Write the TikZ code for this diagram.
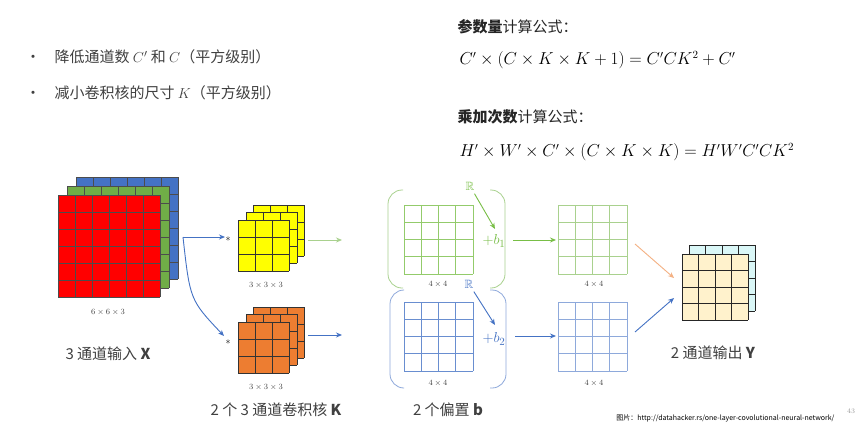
\documentclass[tikz,border=0pt]{standalone}
\usepackage{fontspec}
\usepackage{amssymb}
\newfontfamily\cjk{Noto Sans CJK SC}
\usetikzlibrary{arrows.meta,calc}
\definecolor{gA}{RGB}{120,190,70}
\definecolor{gL}{RGB}{169,209,142}
\definecolor{bA}{RGB}{68,114,196}
\definecolor{bL}{RGB}{142,169,219}
\definecolor{oA}{RGB}{244,177,131}
\definecolor{kred}{RGB}{255,0,0}
\definecolor{kgreen}{RGB}{112,173,71}
\definecolor{kblue}{RGB}{68,114,196}
\definecolor{kyel}{RGB}{255,255,0}
\definecolor{kor}{RGB}{237,125,49}
\definecolor{kcream}{RGB}{255,242,204}
\definecolor{kcyan}{RGB}{218,247,247}
\definecolor{txt}{RGB}{64,64,64}
\newcommand\mygrid[7]{% x y size n fill line width
  \fill[#5] (#1,#2) rectangle ++(#3,#3);
  \foreach \i in {0,...,#4}{
    \pgfmathsetmacro\dd{\i*#3/#4}
    \draw[#6,line width=#7] (#1+\dd,#2) -- (#1+\dd,#2+#3);
    \draw[#6,line width=#7] (#1,#2+\dd) -- (#1+#3,#2+\dd);}}
\tikzset{
  lab/.style={font=\fontsize{8}{9}\selectfont,text=txt},
  big/.style={font=\cjk\fontsize{15}{18}\selectfont,text=txt},
  arr/.style={-{Stealth[length=6pt,width=5pt]},line width=0.9pt},
}
\begin{document}
\begin{tikzpicture}[x=1pt,y=-1pt]
\useasboundingbox[fill=white] (0,0) rectangle (862,429);
% bullets
\node[big,anchor=west] (b1) at (22,57) {•\hspace{14pt}降低通道数 $C'$ 和 $C$（平方级别）};
\node[big,anchor=west] (b2) at (22,93) {•\hspace{14pt}减小卷积核的尺寸 $K$（平方级别）};
% formulas
\node[font=\cjk\fontsize{15}{18}\selectfont,text=black!85,anchor=west] (f1) at (454,27) {\textbf{参数量}计算公式：};
\node[font=\fontsize{16}{18}\selectfont,anchor=west] (e1) at (456,60) {$C'\times(C\times K\times K+1)=C'CK^2+C'$};
\node[font=\cjk\fontsize{15}{18}\selectfont,text=black!85,anchor=west] (f2) at (454,117) {\textbf{乘加次数}计算公式：};
\node[font=\fontsize{16}{18}\selectfont,anchor=west] (e2) at (456,152) {$H'\times W'\times C'\times(C\times K\times K)=H'W'C'CK^2$};
% input
\mygrid{76}{177}{102}{6}{kblue}{black!70}{0.9pt}
\mygrid{67}{186}{102}{6}{kgreen}{black!70}{0.9pt}
\mygrid{58}{195}{102}{6}{kred}{black!70}{0.9pt}
\node[lab] (l1) at (108,312) {$6\times6\times3$};
\node[big] (tx) at (108,354) {3 通道输入 \textbf{X}};
% kernels
\mygrid{253}{205}{51}{3}{kyel}{black!80}{0.9pt}
\mygrid{246}{212}{51}{3}{kyel}{black!80}{0.9pt}
\mygrid{238}{220}{51}{3}{kyel}{black!80}{0.9pt}
\node[lab] (l2) at (266,285) {$3\times3\times3$};
\mygrid{253}{307}{51}{3}{kor}{black!80}{0.9pt}
\mygrid{246}{314}{51}{3}{kor}{black!80}{0.9pt}
\mygrid{238}{322}{51}{3}{kor}{black!80}{0.9pt}
\node[lab] (l3) at (266,387) {$3\times3\times3$};
\node (s1) at (228,239) {$*$};
\node (s2) at (228,342) {$*$};
\coordinate (xo) at (183,237);
\coordinate (k1) at (225,237);
\coordinate (k2) at (224,336);
\draw[arr,bA] (xo) -- (k1);
\draw[arr,bA] (xo) .. controls (190,300) .. (k2);
\coordinate (ya) at (308,240); \coordinate (yb) at (342,240);
\coordinate (oa) at (308,335); \coordinate (ob) at (342,335);
\draw[arr,gL] (ya) -- (yb);
\draw[arr,bA] (oa) -- (ob);
% middle grids
\mygrid{404}{205}{69}{4}{white}{gA!80}{0.8pt}
\mygrid{404}{302}{69}{4}{white}{bA!80}{0.8pt}
\draw[gL,rounded corners=14,line width=0.8pt] (403,190)--(388,190)--(388,288)--(403,288);
\draw[gL,rounded corners=14,line width=0.8pt] (490,190)--(505,190)--(505,288)--(490,288);
\draw[bL,rounded corners=14,line width=0.8pt] (403,290)--(390,290)--(390,388)--(403,388);
\draw[bL,rounded corners=14,line width=0.8pt] (490,290)--(506,290)--(506,388)--(490,388);
\node[lab] (l4) at (438,284) {$4\times4$};
\node[lab] (l5) at (438,383) {$4\times4$};
\node[text=gA,font=\fontsize{12}{14}\selectfont] (r1) at (470,186) {$\mathbb{R}$};
\node[text=bA,font=\fontsize{12}{14}\selectfont] (r2) at (469,284) {$\mathbb{R}$};
\node[text=gA,font=\fontsize{15}{17}\selectfont] (p1) at (494,241) {$+b_1$};
\node[text=bA,font=\fontsize{15}{17}\selectfont] (p2) at (494,339) {$+b_2$};
\coordinate (t1) at (495,229); \coordinate (t2) at (495,325);
\draw[arr,gA] (r1) -- (t1);
\draw[arr,bA] (r2) -- (t2);
\coordinate (ga) at (513,240); \coordinate (gb) at (556,240);
\coordinate (ba) at (515,336); \coordinate (bb) at (556,336);
\draw[arr,gA] (ga) -- (gb);
\draw[arr,bA] (ba) -- (bb);
\mygrid{558}{205}{69}{4}{white}{gL}{0.9pt}
\mygrid{558}{302}{69}{4}{white}{bL}{0.9pt}
\node[lab] (l6) at (594,284) {$4\times4$};
\node[lab] (l7) at (594,383) {$4\times4$};
% output
\coordinate (oa1) at (635,244); \coordinate (oa2) at (674,278);
\coordinate (ob1) at (635,332); \coordinate (ob2) at (674,298);
\draw[arr,oA] (oa1) -- (oa2);
\draw[arr,bA] (ob1) -- (ob2);
\mygrid{689}{245}{66}{4}{kcyan}{black!85}{0.9pt}
\mygrid{682}{254}{66}{4}{kcream}{black!85}{0.9pt}
\node[big] (ty) at (713,353) {2 通道输出 \textbf{Y}};
\node[big] (tk) at (276,410) {2 个 3 通道卷积核 \textbf{K}};
\node[big] (tb) at (448,410) {2 个偏置 \textbf{b}};
\node[font=\cjk\fontsize{7}{8}\selectfont,anchor=east] (src) at (838,418) {图片：http://datahacker.rs/one-layer-covolutional-neural-network/};
\node[font=\fontsize{7}{8}\selectfont,text=black!40] (pg) at (851,411) {43};
\end{tikzpicture}
\end{document}
